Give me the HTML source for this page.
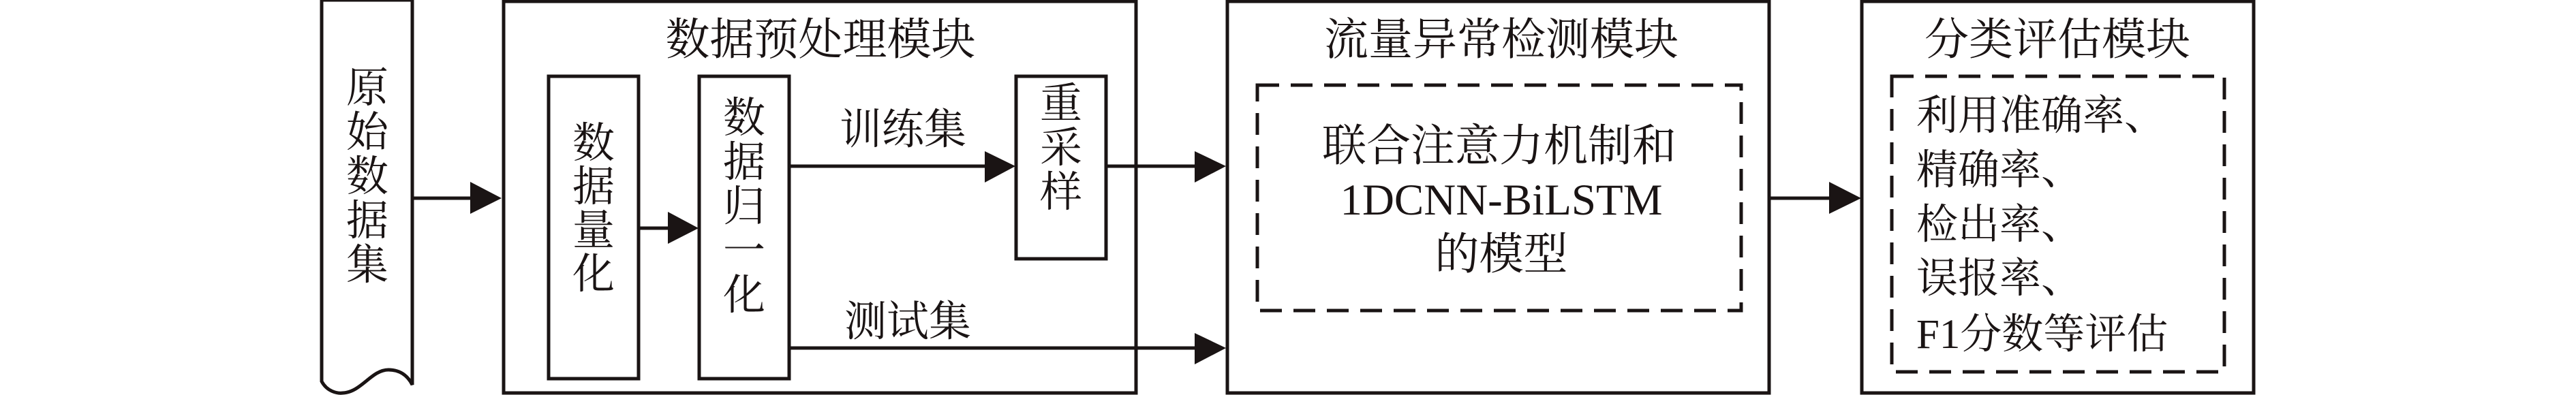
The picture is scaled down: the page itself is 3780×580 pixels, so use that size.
<!DOCTYPE html>
<html><head><meta charset="utf-8"><style>
html,body{margin:0;padding:0;background:#fff;}
svg{display:block;}
text{font-family:"Liberation Serif","Noto Serif CJK SC",serif;fill:#1a1414;}
</style></head><body>
<svg width="3780" height="580" viewBox="0 0 3780 580" xmlns="http://www.w3.org/2000/svg">
<g fill="none" stroke="#1a1414" stroke-width="5">
<path d="M472,0 V560 C480,575 495,578 503,577 C530,576 545,543 570,543 C590,543 600,555 605,565 V0 Z"/>
<rect x="739" y="2" width="928" height="575"/>
<rect x="805" y="112" width="132" height="444"/>
<rect x="1026" y="112" width="132" height="444"/>
<rect x="1491" y="112" width="132" height="268"/>
<rect x="1801" y="2" width="795" height="575"/>
<rect x="2732" y="2" width="575" height="575"/>
<rect x="1845" y="125" width="710" height="331" stroke-dasharray="32,17"/>
<rect x="2776" y="112" width="488" height="434" stroke-dasharray="32,17"/>
<line x1="605" y1="291" x2="695" y2="291"/>
<line x1="937" y1="335" x2="985" y2="335"/>
<line x1="1158" y1="244" x2="1450" y2="244"/>
<line x1="1623" y1="244" x2="1758" y2="244"/>
<line x1="1158" y1="511" x2="1758" y2="511"/>
<line x1="2596" y1="291" x2="2688" y2="291"/>
</g>
<g fill="#1a1414">
<polygon points="690,267 736,291 690,314"/>
<polygon points="980,311 1025,335 980,358"/>
<polygon points="1445,222 1490,244 1445,268"/>
<polygon points="1753,222 1799,244 1753,268"/>
<polygon points="1753,489 1799,511 1753,535"/>
<polygon points="2684,267 2731,291 2684,314"/>
</g>
<g font-size="62" text-anchor="middle">
<text x="539" y="150">原</text><text x="539" y="215">始</text><text x="539" y="280">数</text><text x="539" y="345">据</text><text x="539" y="410">集</text>
<text x="871" y="231">数</text><text x="871" y="295">据</text><text x="871" y="359">量</text><text x="871" y="423">化</text>
<text x="1092" y="194">数</text><text x="1092" y="259">据</text><text x="1092" y="324">归</text><text x="1092" y="389">一</text><text x="1092" y="454">化</text>
<text x="1557" y="173">重</text><text x="1557" y="238">采</text><text x="1557" y="303">样</text>
<text x="1325" y="211">训练集</text>
<text x="1332" y="493">测试集</text>
</g>
<g font-size="65" text-anchor="middle">
<text x="1204" y="80">数据预处理模块</text>
<text x="2203" y="80">流量异常检测模块</text>
<text x="3019" y="80">分类评估模块</text>
<text x="2200" y="236">联合注意力机制和</text>
<text x="2203" y="315">1DCNN-BiLSTM</text>
<text x="2203" y="395">的模型</text>
</g>
<g font-size="61">
<text x="2812" y="190">利用准确率、</text>
<text x="2812" y="270">精确率、</text>
<text x="2812" y="350">检出率、</text>
<text x="2812" y="429">误报率、</text>
<text x="2812" y="511">F1分数等评估</text>
</g>
</svg>
</body></html>
